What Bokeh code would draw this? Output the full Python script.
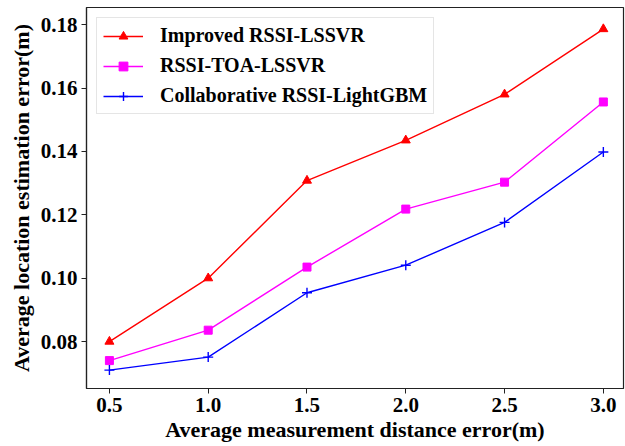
from bokeh.plotting import figure
from bokeh.models import Range1d, FixedTicker, Legend, LegendItem
from bokeh.embed import file_html
from bokeh.resources import INLINE

# Average measurement distance error (m)
distance_error = [0.5, 1.0, 1.5, 2.0, 2.5, 3.0]

# Average location estimation error (m) for each method
improved_rssi_lssvr = [0.0800, 0.1000, 0.1308, 0.1435, 0.1580, 0.1786]
rssi_toa_lssvr = [0.0740, 0.0836, 0.1035, 0.1218, 0.1303, 0.1556]
collab_rssi_lightgbm = [0.0710, 0.0751, 0.0954, 0.1041, 0.1176, 0.1398]

series_names = ["Improved RSSI-LSSVR", "RSSI-TOA-LSSVR", "Collaborative RSSI-LightGBM"]

x_ticks = [0.5, 1.0, 1.5, 2.0, 2.5, 3.0]
y_ticks = [0.08, 0.10, 0.12, 0.14, 0.16, 0.18]

FONT = "Liberation Serif"

p = figure(
    width=625, height=446,
    output_backend="svg", toolbar_location=None,
    x_range=Range1d(0.384, 3.102), y_range=Range1d(0.0652, 0.1854),
    min_border_left=86, min_border_right=2, min_border_top=7, min_border_bottom=58,
    background_fill_color="white", border_fill_color="white",
)
p.grid.visible = False
p.outline_line_color = "#222222"
p.outline_line_width = 1.2

for ax in (p.xaxis, p.yaxis):
    ax.major_label_text_font = FONT
    ax.major_label_text_font_style = "bold"
    ax.major_label_text_font_size = "21px"
    ax.major_label_text_color = "black"
    ax.axis_label_text_font = FONT
    ax.axis_label_text_font_style = "bold"
    ax.axis_label_text_font_size = "22px"
    ax.axis_label_text_color = "black"
    ax.minor_tick_line_color = None
    ax.major_tick_out = 5
    ax.major_tick_in = 0
    ax.major_tick_line_color = "#222222"
    ax.axis_line_color = "#222222"
    ax.axis_line_width = 1.2

p.xaxis.ticker = FixedTicker(ticks=x_ticks)
p.yaxis.ticker = FixedTicker(ticks=y_ticks)
p.xaxis.major_label_overrides = {t: f"{t:.1f}" for t in x_ticks}
p.yaxis.major_label_overrides = {t: f"{t:.2f}" for t in y_ticks}
p.xaxis.major_label_standoff = 4
p.yaxis.major_label_standoff = 4
p.xaxis.axis_label = "Average measurement distance error(m)"
p.yaxis.axis_label = "Average location estimation error(m)"
p.xaxis.axis_label_standoff = 2
p.yaxis.axis_label_standoff = 4

r1 = p.line(distance_error, improved_rssi_lssvr, line_color="red", line_width=1.4)
m1 = p.scatter(distance_error, improved_rssi_lssvr, marker="triangle", size=9,
               fill_color="red", line_color="red")
r2 = p.line(distance_error, rssi_toa_lssvr, line_color="magenta", line_width=1.4)
m2 = p.scatter(distance_error, rssi_toa_lssvr, marker="square", size=8,
               fill_color="magenta", line_color="magenta")
r3 = p.line(distance_error, collab_rssi_lightgbm, line_color="blue", line_width=1.4)
m3 = p.scatter(distance_error, collab_rssi_lightgbm, marker="cross", size=10,
               line_color="blue", line_width=1.4)

legend = Legend(
    items=[
        LegendItem(label=series_names[0], renderers=[r1, m1]),
        LegendItem(label=series_names[1], renderers=[r2, m2]),
        LegendItem(label=series_names[2], renderers=[r3, m3]),
    ],
    location="top_left",
    margin=10,
    padding=6,
    spacing=7,
    glyph_width=40,
    glyph_height=22,
    label_height=22,
    label_standoff=17,
    label_text_font=FONT,
    label_text_font_style="bold",
    label_text_font_size="20px",
    label_text_color="black",
    border_line_color="#cccccc",
    border_line_width=1,
    background_fill_color="white",
    background_fill_alpha=0.8,
)
p.add_layout(legend, "center")

open("out.html", "w").write(file_html(p, INLINE))
